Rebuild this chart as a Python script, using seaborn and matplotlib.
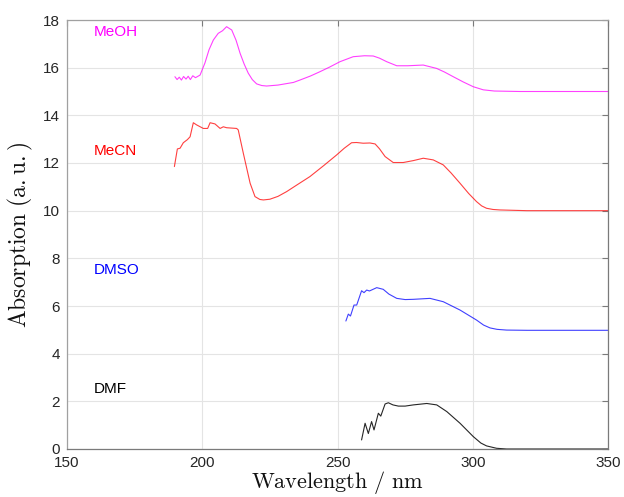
import numpy as np
import pandas as pd
import matplotlib
matplotlib.use("Agg")
import matplotlib.pyplot as plt
import seaborn as sns

# ---- data ----
meoh_x = [189.9, 190.7, 191.5, 192.3, 193.1, 194.0, 194.8, 195.6, 196.5, 197.5, 199.2, 201.0, 202.5,
          204.1, 205.9, 207.5, 209.0, 210.9, 212.5, 214.0, 215.5, 217.0, 218.5, 220.1, 222.0, 223.8,
          228.0, 233.7, 236.1, 240.0, 243.5, 247.0, 250.9, 255.8, 260.0, 263.2, 265.5, 268.2, 271.9,
          276.0, 281.7, 286.6, 289.5, 292.8, 296.5, 300.2, 303.9, 308.0, 317.5, 330.0, 350.0]
meoh_y = [15.62, 15.50, 15.60, 15.48, 15.63, 15.52, 15.64, 15.50, 15.66, 15.58, 15.69, 16.20, 16.75,
          17.16, 17.44, 17.55, 17.72, 17.58, 17.15, 16.60, 16.15, 15.77, 15.50, 15.32, 15.25, 15.23,
          15.27, 15.38, 15.48, 15.65, 15.83, 16.02, 16.25, 16.46, 16.50, 16.49, 16.40, 16.25, 16.08,
          16.08, 16.11, 15.97, 15.82, 15.62, 15.40, 15.20, 15.07, 15.02, 15.00, 15.00, 15.00]

mecn_x = [189.7, 190.8, 191.8, 193.0, 194.5, 195.5, 196.7, 197.9, 200.4, 202.0, 202.9, 204.7,
          206.6, 207.8, 209.0, 212.7, 213.3, 215.2, 217.7, 219.5, 221.3, 222.6, 225.0, 228.0,
          231.2, 235.0, 239.8, 245.0, 249.7, 252.5, 255.2, 257.0, 259.5, 262.0, 263.9, 265.5,
          267.6, 270.6, 274.3, 278.0, 281.7, 285.4, 289.1, 292.0, 295.3, 298.5, 301.4, 303.3, 305.1,
          307.5, 310.1, 320.0, 350.0]
mecn_y = [11.85, 12.59, 12.62, 12.85, 12.98, 13.10, 13.69, 13.60, 13.45, 13.45, 13.69, 13.64,
          13.45, 13.52, 13.48, 13.45, 13.39, 12.40, 11.15, 10.59, 10.47, 10.45, 10.48, 10.60,
          10.80, 11.08, 11.43, 11.90, 12.34, 12.62, 12.85, 12.86, 12.83, 12.84, 12.80, 12.60,
          12.27, 12.02, 12.02, 12.10, 12.20, 12.13, 11.92, 11.58, 11.15, 10.72, 10.38, 10.20, 10.10,
          10.05, 10.03, 10.00, 10.00]

dmso_x = [253.1, 254.0, 254.8, 256.1, 257.1, 258.9, 259.8, 260.8, 261.8, 264.5, 266.9, 269.0,
          271.9, 275.0, 278.0, 284.2, 289.1, 295.3, 301.4, 304.0, 306.4, 309.0, 312.5, 320.0, 350.0]
dmso_y = [5.37, 5.66, 5.58, 6.04, 6.04, 6.64, 6.56, 6.67, 6.63, 6.77, 6.70, 6.50,
          6.32, 6.27, 6.28, 6.32, 6.18, 5.83, 5.41, 5.20, 5.08, 5.02, 4.99, 4.98, 4.98]

dmf_x = [258.9, 260.2, 261.4, 262.6, 263.5, 265.1, 266.0, 267.6, 268.8, 270.5, 272.5, 275.0,
         278.0, 283.0, 286.7, 290.4, 295.3, 300.2, 303.0, 305.1, 308.8, 312.5, 320.0, 350.0]
dmf_y = [0.38, 1.08, 0.65, 1.15, 0.80, 1.50, 1.38, 1.89, 1.94, 1.85, 1.80, 1.80,
         1.85, 1.91, 1.85, 1.57, 1.08, 0.52, 0.25, 0.13, 0.03, 0.00, 0.00, 0.00]

solvents = ["MeOH", "MeCN", "DMSO", "DMF"]
label_y = [17.5, 12.5, 7.5, 2.5]
label_x = 160
colors = ["#ff00ff", "#ff0000", "#0000ff", "#000000"]
xticks = [150, 200, 250, 300, 350]
yticks = [0, 2, 4, 6, 8, 10, 12, 14, 16, 18]

# ---- plot ----
sns.set_theme(style="whitegrid")
plt.rcParams["font.family"] = ["Liberation Sans", "DejaVu Sans"]
plt.rcParams["mathtext.fontset"] = "cm"

fig = plt.figure(figsize=(6.24, 4.97), dpi=100)
ax = fig.add_axes([67 / 624, 1 - 449 / 497, (608 - 67) / 624, (449 - 20) / 497])
ax.set_facecolor("white")

series = [(meoh_x, meoh_y), (mecn_x, mecn_y), (dmso_x, dmso_y), (dmf_x, dmf_y)]
for (xs, ys), c in zip(series, colors):
    sns.lineplot(x=xs, y=ys, color=c, lw=0.8, alpha=0.75 if c != "#000000" else 0.85,
                 ax=ax, sort=False, estimator=None)

for name, yy, c in zip(solvents, label_y, colors):
    ax.text(label_x, yy, name, color=c, fontsize=11, ha="left", va="center")

ax.set_xlim(150, 350)
ax.set_ylim(0, 18)
ax.set_xticks(xticks)
ax.set_yticks(yticks)
ax.grid(True, color="#e4e4e4", lw=0.8)
for s in ax.spines.values():
    s.set_visible(True)
    s.set_color("#7a7a7a")
    s.set_linewidth(0.9)
ax.spines["left"].set_color("#a0a0a0")
ax.spines["top"].set_color("#a0a0a0")
ax.tick_params(axis="both", direction="in", length=4, width=0.8, color="#7a7a7a",
               top=True, right=True, labelsize=11, labelcolor="#262626", pad=5)

ax.set_xlabel(r"$\mathrm{Wavelength\ /\ nm}$", fontsize=16, labelpad=-1, color="#111111")
ax.set_ylabel(r"$\mathrm{Absorption\ (a.u.)}$", fontsize=17, labelpad=6, color="#111111")

fig.savefig("out.png", dpi=100)
